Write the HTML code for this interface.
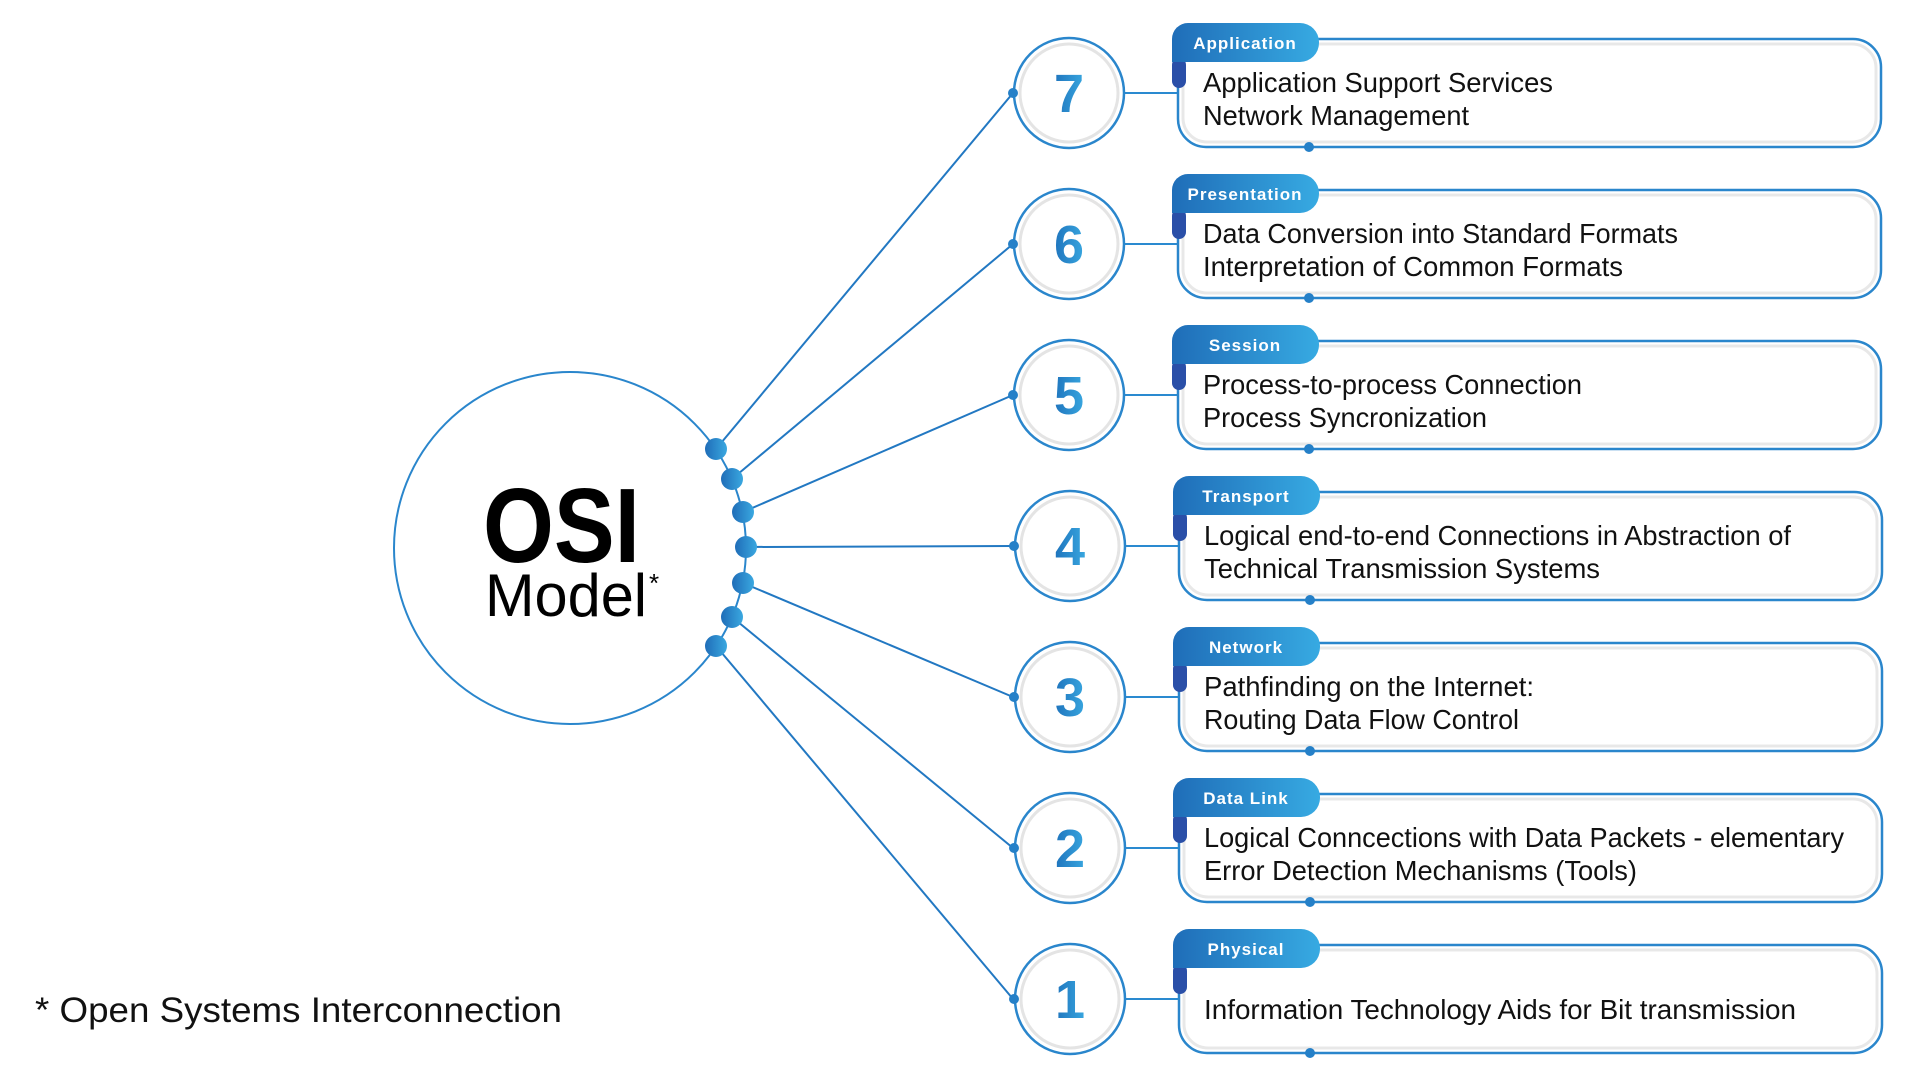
<!DOCTYPE html>
<html><head><meta charset="utf-8"><style>
html,body{margin:0;padding:0;background:#fff;}
svg{display:block;}
text{font-family:"Liberation Sans",sans-serif;}
</style></head><body>
<svg width="1920" height="1080" viewBox="0 0 1920 1080" xmlns="http://www.w3.org/2000/svg">
<defs>
<linearGradient id="tab" x1="0" x2="1" y1="0" y2="0"><stop offset="0" stop-color="#1f6db8"/><stop offset="1" stop-color="#37aae2"/></linearGradient>
<linearGradient id="dot" x1="0" x2="1" y1="0" y2="0"><stop offset="0" stop-color="#1f6db8"/><stop offset="1" stop-color="#3aa8e0"/></linearGradient>
<linearGradient id="num" x1="0" x2="1" y1="0" y2="0"><stop offset="0" stop-color="#1f74bd"/><stop offset="1" stop-color="#38a6df"/></linearGradient>
<g id="row">
  <line x1="1124" y1="93" x2="1178" y2="93" stroke="#2a8ad0" stroke-width="2"/>
  <circle cx="1069" cy="93" r="55" fill="#fff" stroke="#2a86cc" stroke-width="2.5"/>
  <circle cx="1069" cy="93" r="49" fill="#fff" stroke="#e4e4e4" stroke-width="3"/>
  <circle cx="1013" cy="93" r="5" fill="#2580c8"/>
  <rect x="1178" y="39" width="703" height="108" rx="28" fill="#fff" stroke="#2a86cc" stroke-width="2.5"/>
  <rect x="1183" y="44" width="693" height="98" rx="24" fill="none" stroke="#e8e8e8" stroke-width="3"/>
  <rect x="1172" y="58" width="14" height="30" rx="7" fill="#2a4fa8"/>
  <path d="M1188,23 H1300 A19,19 0 0 1 1319,42 V43 A19,19 0 0 1 1300,62 H1172 V39 A16,16 0 0 1 1188,23 Z" fill="url(#tab)"/>
  <circle cx="1309" cy="147" r="5" fill="#2580c8"/>
</g>
</defs>

<circle cx="570" cy="548" r="176" fill="none" stroke="#2a86cc" stroke-width="2"/>
<text x="483" y="562" font-size="106" font-weight="bold" textLength="157" lengthAdjust="spacingAndGlyphs" fill="#000">OSI</text>
<text x="485" y="616" font-size="60" textLength="162" lengthAdjust="spacingAndGlyphs" fill="#000">Model</text>
<text x="649" y="592" font-size="26" fill="#000">*</text>

<g stroke="#2278c2" stroke-width="2">
<line x1="716" y1="449" x2="1013" y2="93"/>
<line x1="732" y1="479" x2="1013" y2="244"/>
<line x1="743" y1="512" x2="1013" y2="395"/>
<line x1="746" y1="547" x2="1013" y2="546"/>
<line x1="743" y1="583" x2="1013" y2="697"/>
<line x1="732" y1="617" x2="1013" y2="848"/>
<line x1="716" y1="646" x2="1013" y2="999"/>
</g>
<g fill="url(#dot)">
<circle cx="716" cy="449" r="11"/><circle cx="732" cy="479" r="11"/><circle cx="743" cy="512" r="11"/>
<circle cx="746" cy="547" r="11"/><circle cx="743" cy="583" r="11"/><circle cx="732" cy="617" r="11"/>
<circle cx="716" cy="646" r="11"/>
</g>

<g font-size="28" fill="#111">
<g transform="translate(0,0)"><use href="#row"/>
<text x="1069" y="112" text-anchor="middle" font-size="54" font-weight="bold" fill="url(#num)">7</text>
<text x="1245" y="49" text-anchor="middle" font-size="17" font-weight="bold" fill="#fff" letter-spacing="1">Application</text>
<text x="1203" y="92" textLength="350" lengthAdjust="spacingAndGlyphs">Application Support Services</text>
<text x="1203" y="125" textLength="266" lengthAdjust="spacingAndGlyphs">Network Management</text></g>

<g transform="translate(0,151)"><use href="#row"/>
<text x="1069" y="112" text-anchor="middle" font-size="54" font-weight="bold" fill="url(#num)">6</text>
<text x="1245" y="49" text-anchor="middle" font-size="17" font-weight="bold" fill="#fff" letter-spacing="1">Presentation</text>
<text x="1203" y="92" textLength="475" lengthAdjust="spacingAndGlyphs">Data Conversion into Standard Formats</text>
<text x="1203" y="125" textLength="420" lengthAdjust="spacingAndGlyphs">Interpretation of Common Formats</text></g>

<g transform="translate(0,302)"><use href="#row"/>
<text x="1069" y="112" text-anchor="middle" font-size="54" font-weight="bold" fill="url(#num)">5</text>
<text x="1245" y="49" text-anchor="middle" font-size="17" font-weight="bold" fill="#fff" letter-spacing="1">Session</text>
<text x="1203" y="92" textLength="379" lengthAdjust="spacingAndGlyphs">Process-to-process Connection</text>
<text x="1203" y="125" textLength="284" lengthAdjust="spacingAndGlyphs">Process Syncronization</text></g>

<g transform="translate(1,453)"><use href="#row"/>
<text x="1069" y="112" text-anchor="middle" font-size="54" font-weight="bold" fill="url(#num)">4</text>
<text x="1245" y="49" text-anchor="middle" font-size="17" font-weight="bold" fill="#fff" letter-spacing="1">Transport</text>
<text x="1203" y="92" textLength="587" lengthAdjust="spacingAndGlyphs">Logical end-to-end Connections in Abstraction of</text>
<text x="1203" y="125" textLength="396" lengthAdjust="spacingAndGlyphs">Technical Transmission Systems</text></g>

<g transform="translate(1,604)"><use href="#row"/>
<text x="1069" y="112" text-anchor="middle" font-size="54" font-weight="bold" fill="url(#num)">3</text>
<text x="1245" y="49" text-anchor="middle" font-size="17" font-weight="bold" fill="#fff" letter-spacing="1">Network</text>
<text x="1203" y="92" textLength="330" lengthAdjust="spacingAndGlyphs">Pathfinding on the Internet:</text>
<text x="1203" y="125" textLength="315" lengthAdjust="spacingAndGlyphs">Routing Data Flow Control</text></g>

<g transform="translate(1,755)"><use href="#row"/>
<text x="1069" y="112" text-anchor="middle" font-size="54" font-weight="bold" fill="url(#num)">2</text>
<text x="1245" y="49" text-anchor="middle" font-size="17" font-weight="bold" fill="#fff" letter-spacing="1">Data Link</text>
<text x="1203" y="92" textLength="640" lengthAdjust="spacingAndGlyphs">Logical Conncections with Data Packets - elementary</text>
<text x="1203" y="125" textLength="433" lengthAdjust="spacingAndGlyphs">Error Detection Mechanisms (Tools)</text></g>

<g transform="translate(1,906)"><use href="#row"/>
<text x="1069" y="112" text-anchor="middle" font-size="54" font-weight="bold" fill="url(#num)">1</text>
<text x="1245" y="49" text-anchor="middle" font-size="17" font-weight="bold" fill="#fff" letter-spacing="1">Physical</text>
<text x="1203" y="113" textLength="592" lengthAdjust="spacingAndGlyphs">Information Technology Aids for Bit transmission</text></g>
</g>

<text x="35" y="1022" font-size="35" fill="#111" textLength="527" lengthAdjust="spacingAndGlyphs">* Open Systems Interconnection</text>
</svg>
</body></html>
